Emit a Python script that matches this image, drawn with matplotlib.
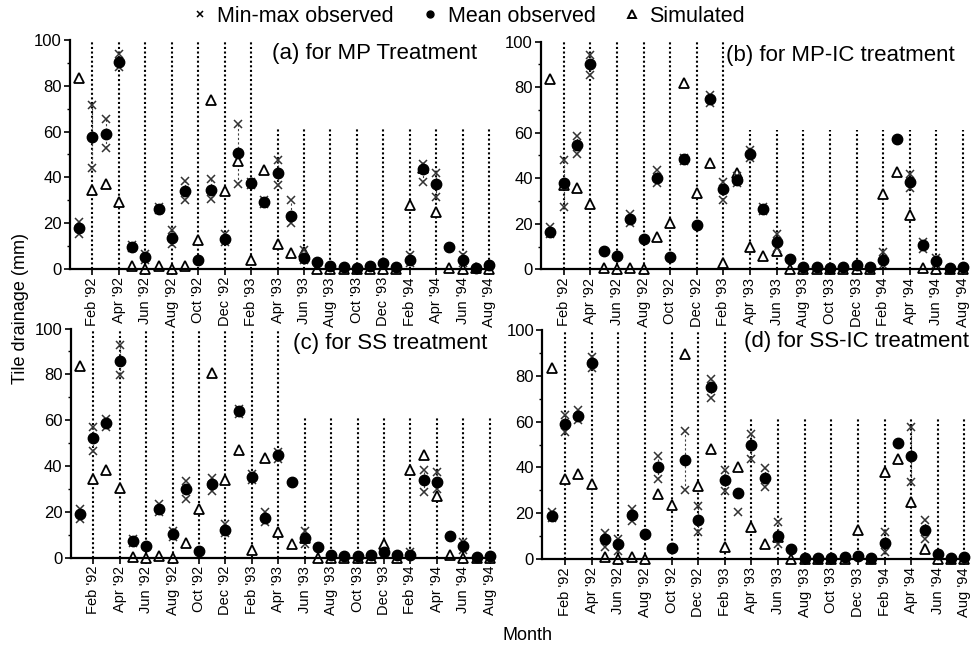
import numpy as np
import matplotlib.pyplot as plt
from matplotlib.lines import Line2D
from matplotlib.ticker import MultipleLocator

plt.rcParams['font.family'] = ['Liberation Sans', 'DejaVu Sans']

nan = np.nan
months = np.arange(1, 33)  # Jan '92 .. Aug '94
tick_months = months[1::2]
tick_labels = ["Feb '92", "Apr '92", "Jun '92", "Aug '92", "Oct '92", "Dec '92",
               "Feb '93", "Apr '93", "Jun '93", "Aug '93", "Oct '93", "Dec '93",
               "Feb '94", "Apr '94", "Jun '94", "Aug '94"]

# (a) MP treatment
mean_a = [18, 57.7, 58.9, 90.2, 9.6, 5.2, 26.2, 13.3, 34, 4, 34.4, 12.8, 50.4, 37.3, 29.3, 42,
          23.2, 4.5, 3, 1, 0.9, 0.5, 1.1, 2.3, 0.9, 4, 43.4, 36.9, 9.6, 3.8, 0.5, 1.5]
lo_a = [15, 43.9, 52.6, 88.3, 8.9, 4, 25.5, 11, 30, nan, 30.3, 11.7, 37, 36.5, 28.5, 36.6,
        19.8, 3.8, nan, nan, nan, nan, nan, nan, nan, 2.3, 38, 31.5, nan, 2.3, nan, nan]
hi_a = [20.5, 71.6, 65.3, 93.9, 10.3, 6.5, 27, 16.9, 38.5, nan, 39.2, 15.2, 63.3, 38, 30, 47.5,
        30, 8.2, nan, nan, nan, nan, nan, nan, nan, 6, 45.8, 42, nan, 6, nan, nan]
sim_a = [83.5, 34.4, 37, 29.2, 1, 0, 1, 0, 1, 12.5, 73.8, 34.1, 47, 3.8, 43.1, 11,
         6.7, 7.4, 0, 0, 0, 0, 0, 0, 0, 27.8, 43.9, 25, 0.5, 0, 0.5, 0]

# (b) MP-IC treatment
mean_b = [16.5, 38, 54.6, 90, 8.2, 5.9, 22, 13.2, 40, 5.3, 48.3, 19.5, 74.8, 35.1, 39.2, 50.7,
          26.4, 11.9, 4.4, 0.9, 0.9, 0.6, 1.2, 1.9, 0.9, 4.1, 57.1, 38.5, 10.7, 3.8, 0.6, 1.2]
lo_b = [15.5, 27.5, 50.7, 85.4, nan, nan, 20.2, nan, 37.8, nan, 47.5, nan, 73, 30.5, 38, 49,
        25.5, 9.2, nan, nan, nan, nan, nan, nan, nan, 2, nan, 35.6, 9, 2.5, nan, nan]
hi_b = [18.7, 48, 58.6, 94, nan, nan, 24.2, nan, 43.6, nan, 49, nan, 76.5, 38.5, 41, 52.5,
        27.5, 15.5, nan, nan, nan, nan, nan, nan, nan, 7.8, nan, 41.9, 12, 5, nan, nan]
sim_b = [83.5, 37, 35.9, 28.5, 0.4, 0, 0.5, 0, 14, 20.5, 81.7, 33.7, 46.9, 2.9, 42.5, 9.7,
         5.9, 8.2, 0, 0, 0, 0, 0, 0, 0, 33, 42.9, 23.9, 0.5, 0, 0.3, 0]

# (c) SS treatment
mean_c = [18.8, 52.2, 58.7, 86, 7.1, 5, 21.4, 10.2, 29.7, 2.8, 32.3, 12.2, 63.8, 35.2, 17.3, 44.7,
          33, 8.3, 4.4, 1, 0.6, 0.6, 0.9, 2.5, 1, 1, 33.7, 33, 9.3, 4.9, 0.3, 0.6]
lo_c = [17, 46.4, 57, 79.7, 6.2, nan, 20, 9, 25.7, nan, 29.1, 10.8, 62.5, 34, 15.6, 43.2,
        nan, 6.1, nan, nan, nan, nan, nan, nan, nan, 0.5, 28.7, 30.1, nan, 3.2, nan, nan]
hi_c = [21, 57.2, 60.4, 92.8, 8, nan, 23.3, 11.5, 33.5, nan, 34.9, 14.8, 65, 36.5, 19.9, 46.1,
        nan, 11.6, nan, nan, nan, nan, nan, nan, nan, 2.5, 38.4, 37.4, nan, 6.8, nan, nan]
sim_c = [83.6, 34.3, 38.1, 30.4, 0.3, 0, 0.5, 0, 6.5, 21.4, 80.4, 33.7, 46.8, 3.2, 43.5, 11.2,
         5.8, 8.7, 0, 0, 0, 0, 0, 6, 0, 38.1, 44.7, 27, 1, 0, 0, 0]

# (d) SS-IC treatment
mean_d = [18.9, 58.8, 62.3, 85.7, 8.7, 6.5, 19.3, 10.9, 40.3, 4.8, 43.2, 17.2, 74.9, 34.5, 28.7, 49.6,
          35.3, 10.2, 4.4, 0.4, 0.4, 0.4, 0.7, 1.5, 0.4, 6.8, 50.7, 45.1, 12.7, 2.2, 0.4, 0.7]
lo_d = [17.9, 55.4, 60.5, 83.6, 5.1, 3.6, 16.7, nan, 34.9, nan, 30.1, 11.6, 70.5, 29.8, 20.4, 43.6,
        31.6, 6.5, nan, nan, nan, nan, nan, nan, nan, 2.9, nan, 33.5, 8.7, nan, nan, nan]
hi_d = [20.4, 62.7, 64.9, 88.3, 11.2, 8.7, 21.8, nan, 45.1, nan, 55.8, 23.3, 78.8, 38.8, nan, 54.7,
        39.7, 16, nan, nan, nan, nan, nan, nan, nan, 11.6, nan, 57.6, 17, nan, nan, nan]
sim_d = [83.6, 35, 37.1, 32.7, 1, 0, 0.7, 0, 28.5, 23.6, 89.5, 32, 48, 5.1, 40, 14,
         6.5, 9.5, 0, 0, 0, 0, 0, 12.7, 0, 37.8, 43.5, 25, 4.4, 0, 0, 0]

titles = ['(a) for MP Treatment', '(b) for MP-IC treatment',
          '(c) for SS treatment', '(d) for SS-IC treatment']
n_tall = [7, 7, 8, 7]  # dotted guide lines running up to 100 (rest stop below the title)

fig = plt.figure(figsize=(9.71, 6.5), dpi=100)
boxes = [[0.0721, 0.5866, 0.4342, 0.3518],
         [0.5572, 0.5857, 0.4374, 0.3502],
         [0.0729, 0.1423, 0.4342, 0.3523],
         [0.5586, 0.1400, 0.4374, 0.3523]]
title_pos = [(477, 53), (955, 55), (487, 343), (969, 342)]

data = [(mean_a, lo_a, hi_a, sim_a), (mean_b, lo_b, hi_b, sim_b),
        (mean_c, lo_c, hi_c, sim_c), (mean_d, lo_d, hi_d, sim_d)]

for k in range(4):
    mean, lo, hi, sim = [np.array(v, dtype=float) for v in data[k]]
    ax = fig.add_axes(boxes[k])
    for i, m in enumerate(tick_months):
        top = 100 if i < n_tall[k] else 61
        ax.plot([m, m], [0, top], color='black', lw=1.5, ls=(0, (1, 1.2)), zorder=1)
    both = ~np.isnan(lo) & ~np.isnan(hi)
    ax.vlines(months[both], lo[both], hi[both], color='0.25', lw=0.8, ls=(0, (2, 2)), zorder=2)
    ax.plot(months, sim, ls='none', marker='^', mfc='white', mec='black', ms=6.5, mew=1.3,
            zorder=3, clip_on=False)
    ax.plot(months, lo, ls='none', marker='x', color='0.2', ms=6, mew=1.1, zorder=4)
    ax.plot(months, hi, ls='none', marker='x', color='0.2', ms=6, mew=1.1, zorder=4)
    ax.plot(months, mean, ls='none', marker='o', color='black', ms=7.5, zorder=5, clip_on=False)

    ax.set_xlim(0.3, 32.2)
    ax.set_ylim(0, 100)
    for s in ['top', 'right']:
        ax.spines[s].set_visible(False)
    for s in ['left', 'bottom']:
        ax.spines[s].set_linewidth(1.6)
        ax.spines[s].set_zorder(6)
    ax.set_xticks(tick_months)
    ax.set_xticklabels(tick_labels, rotation=90, fontsize=10.5)
    ax.set_yticks(range(0, 101, 20))
    ax.yaxis.set_minor_locator(MultipleLocator(10))
    ax.tick_params(axis='y', which='major', labelsize=12, length=4, width=1.2, pad=2)
    ax.tick_params(axis='y', which='minor', length=2.5, width=1)
    ax.tick_params(axis='x', length=4, width=1.2, pad=2)

    tx, ty = title_pos[k]
    fig.text(tx / 971, 1 - ty / 650, titles[k], ha='right', va='center', fontsize=16)

handles = [Line2D([], [], ls='none', marker='x', color='black', ms=5, mew=1.1),
           Line2D([], [], ls='none', marker='o', color='black', ms=5),
           Line2D([], [], ls='none', marker='^', mfc='white', mec='black', ms=5.5, mew=1.4)]
fig.legend(handles, ['Min-max observed', 'Mean observed', 'Simulated'],
           loc='center', bbox_to_anchor=(0.481, 0.975), ncol=3, frameon=False,
           fontsize=15.5, handletextpad=0.3, columnspacing=1.2, handlelength=1.0)

fig.text(0.021, 1 - 308 / 650, 'Tile drainage (mm)', rotation=90, ha='center', va='center',
         fontsize=13)
fig.text(528 / 971, 1 - 636 / 650, 'Month', ha='center', va='center', fontsize=13)

fig.savefig('out.png', dpi=100)
